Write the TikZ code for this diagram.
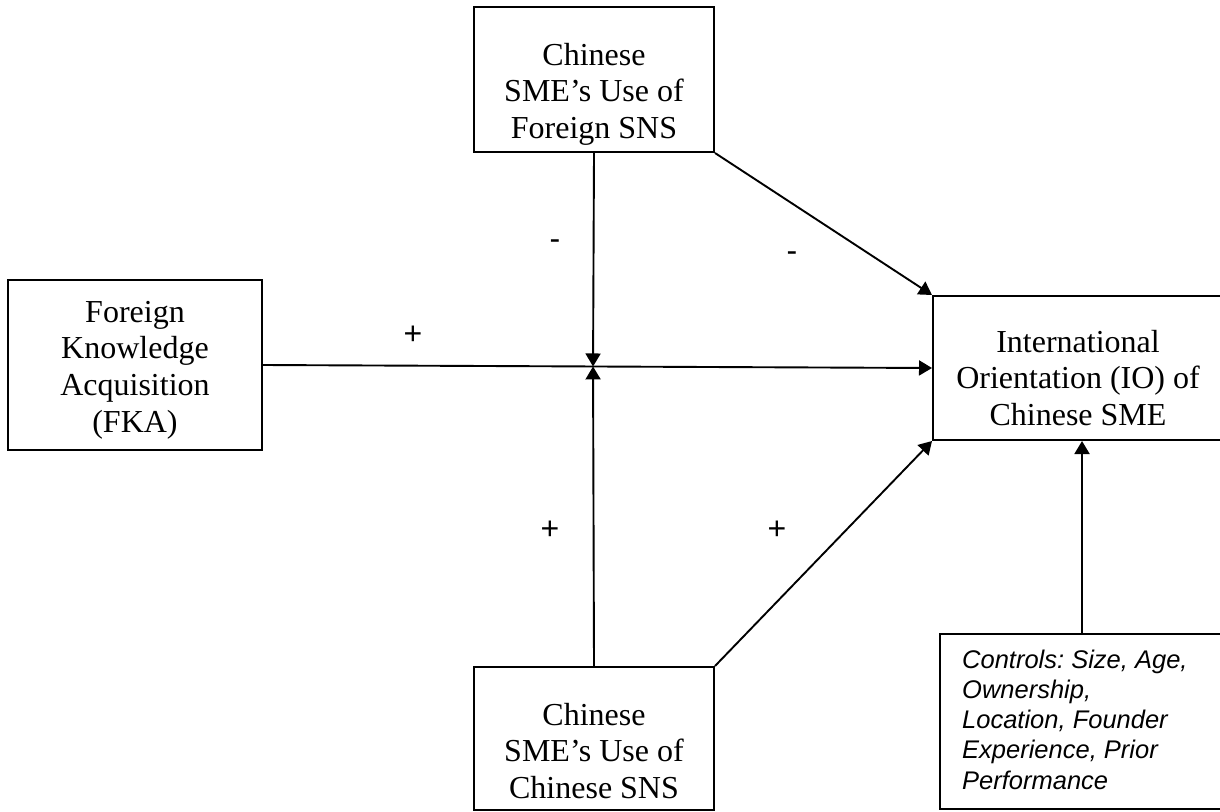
\documentclass[tikz,border=0pt]{standalone}
\usepackage{fontspec}
\setmainfont{Liberation Serif}
\newfontfamily\arialfont{Liberation Sans}
\usetikzlibrary{arrows.meta,calc}
\newcommand\firstln{\rule{0pt}{24pt}}
\newcommand\firstlnc{\rule{0pt}{20pt}}
\begin{document}
\begin{tikzpicture}[x=1pt,y=-1pt,
  box/.style={draw,line width=2pt,inner sep=0pt},
  btext/.style={inner sep=0pt,align=center,anchor=north,font=\fontsize{32}{36.7}\selectfont},
  conn/.style={line width=1.9pt,-{Triangle[length=13pt,width=15pt]}},
  sign/.style={inner sep=0pt,font=\arialfont\fontsize{32}{36}\selectfont}]
\useasboundingbox (0,0) rectangle (1220,811);
\clip (0,0) rectangle (1220,811);
% boxes
\node[box,minimum width=240pt,minimum height=145pt] (fsns) at (594,79.5) {};
\node[btext] (fsnst) at (594,41) {\firstln Chinese\\SME’s Use of\\Foreign SNS};
\node[box,minimum width=254pt,minimum height=170pt] (fka) at (135,365) {};
\node[btext] (fkat) at (135,298) {\firstln Foreign\\Knowledge\\Acquisition\\(FKA)};
\node[box,minimum width=290pt,minimum height=144pt] (io) at (1078,368) {};
\node[btext] (iot) at (1078,328) {\firstln International\\Orientation (IO) of\\Chinese SME};
\node[box,minimum width=240pt,minimum height=143pt] (csns) at (594,738.5) {};
\node[btext] (csnst) at (594,701) {\firstln Chinese\\SME’s Use of\\Chinese SNS};
\node[box,minimum width=284pt,minimum height=175pt] (ctrl) at (1082,721.5) {};
\node[inner sep=0pt,align=left,anchor=north west,
  font=\arialfont\itshape\fontsize{25.5}{30.2}\selectfont\frenchspacing] (ctrlt) at (962,648)
  {\firstlnc Controls: Size, Age,\\Ownership,\\Location, Founder\\Experience, Prior\\Performance};
% connectors
\coordinate (mid) at ($(fka.east)!(fsns.south)!(io.west)$);
\draw[conn] (fka.east) -- (io.west);
\draw[conn] (fsns.south) -- (mid);
\draw[conn] (csns.north) -- (mid);
\draw[conn] (fsns.south east) -- (io.north west);
\draw[conn] (csns.north east) -- (io.south west);
\draw[conn] (ctrl.north) -- (ctrl.north |- io.south);
% signs
\node[sign] (m1) at (555,245) {-};
\node[sign] (m2) at (792,257) {-};
\node[sign] (p1) at (413,335) {+};
\node[sign] (p2) at (550,530) {+};
\node[sign] (p3) at (777,530) {+};
\end{tikzpicture}
\end{document}
